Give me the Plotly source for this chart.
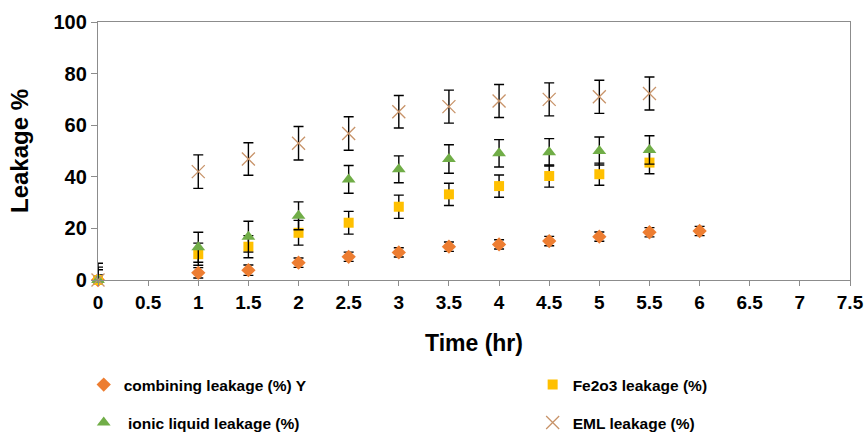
import plotly.graph_objects as go

time = [0, 1, 1.5, 2, 2.5, 3, 3.5, 4, 4.5, 5, 5.5]
time_comb = [0, 1, 1.5, 2, 2.5, 3, 3.5, 4, 4.5, 5, 5.5, 6]

combining = [0, 2.8, 3.8, 6.7, 9.0, 10.7, 12.9, 13.8, 15.1, 16.8, 18.5, 19.0]
combining_err = [2, 2.0, 2.0, 1.8, 1.8, 1.8, 1.8, 1.8, 1.8, 1.8, 1.8, 1.8]

fe2o3 = [0, 10.0, 12.9, 18.3, 22.2, 28.4, 33.2, 36.4, 40.3, 41.0, 45.5]
fe2o3_err = [4, 4.3, 4.3, 4.8, 4.4, 4.5, 4.3, 4.3, 4.3, 4.3, 4.3]

ionic = [0, 12.7, 16.8, 24.9, 39.0, 42.9, 46.9, 49.1, 49.5, 50.0, 50.4]
ionic_err = [5, 5.8, 6.0, 5.4, 5.4, 5.2, 5.5, 5.3, 5.3, 5.4, 5.5]

eml = [0, 42.0, 46.9, 53.0, 56.8, 65.2, 67.2, 69.4, 70.0, 71.0, 72.3]
eml_err = [6.5, 6.5, 6.3, 6.5, 6.5, 6.3, 6.4, 6.4, 6.4, 6.4, 6.4]

names = ["combining leakage (%) Y", "Fe2o3 leakage (%)",
         " ionic liquid leakage (%)", "EML leakage (%)"]

x_ticks = [0, 0.5, 1, 1.5, 2, 2.5, 3, 3.5, 4, 4.5, 5, 5.5, 6, 6.5, 7, 7.5]
y_ticks = [0, 20, 40, 60, 80, 100]

FONT = "Liberation Sans, Arial, sans-serif"

def err(e):
    return dict(type="data", array=e, visible=True, color="black",
                thickness=1.4, width=5)

fig = go.Figure()
fig.add_trace(go.Scatter(x=time_comb, y=combining, mode="markers", name=names[0],
                         marker=dict(symbol="diamond", size=11, color="#ED7D31"),
                         error_y=err(combining_err), legend="legend", cliponaxis=False,
                         showlegend=True))
fig.add_trace(go.Scatter(x=time, y=fe2o3, mode="markers", name=names[1],
                         marker=dict(symbol="square", size=10, color="#FFC000"),
                         error_y=err(fe2o3_err), legend="legend2", cliponaxis=False,
                         showlegend=True))
fig.add_trace(go.Scatter(x=time, y=ionic, mode="markers", name=names[2],
                         marker=dict(symbol="triangle-up", size=12, color="#70AD47"),
                         error_y=err(ionic_err), legend="legend3", cliponaxis=False,
                         showlegend=True))
fig.add_trace(go.Scatter(x=time, y=eml, mode="markers", name=names[3],
                         marker=dict(symbol="x-thin-open", size=13, color="#C8946A",
                                     line=dict(color="#C8946A", width=1.3)),
                         error_y=err(eml_err), legend="legend4", cliponaxis=False,
                         showlegend=True))

def leg(x, y):
    return dict(orientation="v", x=x, y=y, xanchor="left", yanchor="middle",
                font=dict(family=FONT, size=15.5, color="black", weight="bold"),
                bgcolor="rgba(0,0,0,0)", itemsizing="trace")

fig.update_layout(
    width=866, height=434,
    showlegend=True,
    margin=dict(l=98, r=16, t=22, b=154, autoexpand=False),
    paper_bgcolor="white", plot_bgcolor="white",
    font=dict(family=FONT, color="black"),
    legend=leg(-0.019, -0.407),
    legend2=leg(0.578, -0.407),
    legend3=leg(-0.019, -0.554),
    legend4=leg(0.578, -0.554),
    xaxis=dict(range=[0, 7.5], tickvals=x_ticks, ticktext=[str(v) for v in x_ticks],
               showline=True, linecolor="#8C8C8C", linewidth=1.3, mirror=True,
               ticks="outside", ticklen=5, tickcolor="#8C8C8C", showgrid=False,
               zeroline=False,
               tickfont=dict(family=FONT, size=19, color="black", weight="bold"),
               title=dict(text="Time (hr)", standoff=22,
                          font=dict(family=FONT, size=23, color="black", weight="bold"))),
    yaxis=dict(range=[0, 100], tickvals=y_ticks,
               showline=True, linecolor="#8C8C8C", linewidth=1.3, mirror=True,
               ticks="outside", ticklen=6, tickcolor="#8C8C8C", showgrid=False,
               zeroline=False,
               tickfont=dict(family=FONT, size=20, color="black", weight="bold"),
               title=dict(text="Leakage %", standoff=18,
                          font=dict(family=FONT, size=24, color="black", weight="bold"))),
)

fig.write_html("out.html")
